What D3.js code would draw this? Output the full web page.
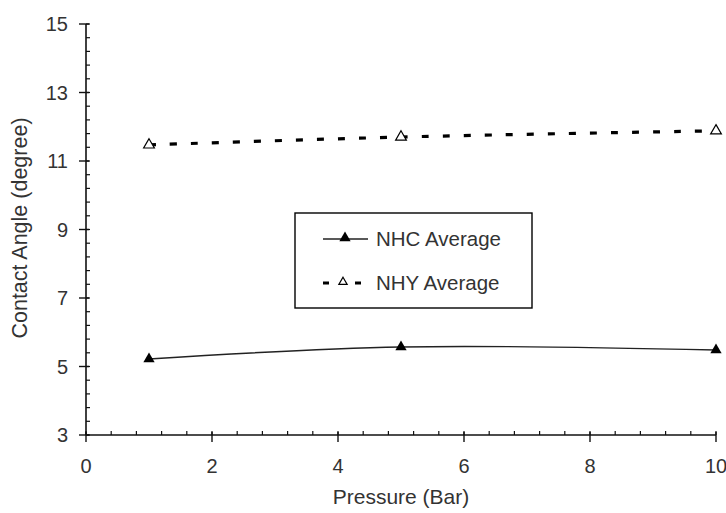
<!DOCTYPE html>
<html>
<head>
<meta charset="utf-8">
<script src="https://cdn.jsdelivr.net/npm/d3@7"></script>
<style>
  html, body { margin: 0; padding: 0; background: #fff; }
  svg { display: block; }
  text { font-family: "Liberation Sans", Arial, sans-serif; fill: #333; }
</style>
</head>
<body>
<svg id="chart" width="726" height="513"></svg>
<script>
// Contact angle vs. pressure for two samples
const pressure = [1, 5, 10];
const nhcAverage = [5.22, 5.57, 5.48];
const nhyAverage = [11.47, 11.70, 11.88];
const seriesNames = ["NHC Average", "NHY Average"];
const xTicks = [0, 2, 4, 6, 8, 10];
const yTicks = [3, 5, 7, 9, 11, 13, 15];
const xTitle = "Pressure (Bar)";
const yTitle = "Contact Angle (degree)";

const svg = d3.select("#chart");
const x = d3.scaleLinear().domain([0, 10]).range([86, 716]);
const y = d3.scaleLinear().domain([3, 15]).range([435, 24]);

// minor ticks every 0.4 units
const xMinor = d3.range(0, 10.001, 0.4);
const yMinor = d3.range(3, 15.001, 0.4);

const axisColor = "#111";

// x axis
const gx = svg.append("g");
gx.append("line").attr("x1", x(0)).attr("x2", x(10)).attr("y1", y(3)).attr("y2", y(3))
  .attr("stroke", axisColor).attr("stroke-width", 1.6);
gx.selectAll("line.minor").data(xMinor).join("line").attr("class", "minor")
  .attr("x1", d => x(d)).attr("x2", d => x(d))
  .attr("y1", y(3)).attr("y2", y(3) - 4)
  .attr("stroke", axisColor).attr("stroke-width", 1.2);
gx.selectAll("line.major").data(xTicks).join("line").attr("class", "major")
  .attr("x1", d => x(d)).attr("x2", d => x(d))
  .attr("y1", y(3) - 3).attr("y2", y(3) + 7)
  .attr("stroke", axisColor).attr("stroke-width", 1.4);
gx.selectAll("text").data(xTicks).join("text")
  .attr("x", d => x(d)).attr("y", 473)
  .attr("text-anchor", "middle").attr("font-size", 20)
  .text(d => d);

// y axis
const gy = svg.append("g");
gy.append("line").attr("x1", x(0)).attr("x2", x(0)).attr("y1", y(3)).attr("y2", y(15))
  .attr("stroke", axisColor).attr("stroke-width", 1.6);
gy.selectAll("line.minor").data(yMinor).join("line").attr("class", "minor")
  .attr("x1", x(0)).attr("x2", x(0) + 4)
  .attr("y1", d => y(d)).attr("y2", d => y(d))
  .attr("stroke", axisColor).attr("stroke-width", 1.2);
gy.selectAll("line.major").data(yTicks).join("line").attr("class", "major")
  .attr("x1", x(0) - 7).attr("x2", x(0) + 3)
  .attr("y1", d => y(d)).attr("y2", d => y(d))
  .attr("stroke", axisColor).attr("stroke-width", 1.4);
gy.selectAll("text").data(yTicks).join("text")
  .attr("x", 68).attr("y", d => y(d) + 7)
  .attr("text-anchor", "end").attr("font-size", 20)
  .text(d => d);

// axis titles
svg.append("text").attr("x", x(5)).attr("y", 504)
  .attr("text-anchor", "middle").attr("font-size", 21).text(xTitle);
svg.append("text")
  .attr("transform", `translate(27, 228) rotate(-90)`)
  .attr("text-anchor", "middle").attr("font-size", 21.5).text(yTitle);

// series lines
const line = d3.line().curve(d3.curveCatmullRom.alpha(0.5))
  .x(d => x(d[0])).y(d => y(d[1]));
const nhc = pressure.map((p, i) => [p, nhcAverage[i]]);
const nhy = pressure.map((p, i) => [p, nhyAverage[i]]);

svg.append("path").datum(nhy).attr("d", line)
  .attr("fill", "none").attr("stroke", "#000").attr("stroke-width", 3.2)
  .attr("stroke-dasharray", "7,14");
svg.append("path").datum(nhc).attr("d", line)
  .attr("fill", "none").attr("stroke", "#222").attr("stroke-width", 1.4);

const tri = d3.symbol().type(d3.symbolTriangle);
svg.selectAll("path.nhc").data(nhc).join("path").attr("class", "nhc")
  .attr("d", tri.size(55)())
  .attr("transform", d => `translate(${x(d[0])},${y(d[1])})`)
  .attr("fill", "#000");
svg.selectAll("path.nhy").data(nhy).join("path").attr("class", "nhy")
  .attr("d", tri.size(50)())
  .attr("transform", d => `translate(${x(d[0])},${y(d[1])})`)
  .attr("fill", "#fff").attr("stroke", "#000").attr("stroke-width", 1.2);

// legend
const lg = svg.append("g");
lg.append("rect").attr("x", 295).attr("y", 213).attr("width", 237).attr("height", 95)
  .attr("fill", "#fff").attr("stroke", "#000").attr("stroke-width", 1.4);
lg.append("line").attr("x1", 323).attr("x2", 368).attr("y1", 239).attr("y2", 239)
  .attr("stroke", "#222").attr("stroke-width", 1.4);
lg.append("path").attr("d", tri.size(55)()).attr("transform", "translate(345,238)")
  .attr("fill", "#000");
lg.append("line").attr("x1", 323).attr("x2", 362).attr("y1", 283).attr("y2", 283)
  .attr("stroke", "#000").attr("stroke-width", 3.2).attr("stroke-dasharray", "6,26");
lg.append("path").attr("d", tri.size(30)()).attr("transform", "translate(343,282)")
  .attr("fill", "#fff").attr("stroke", "#000").attr("stroke-width", 1.2);
lg.selectAll("text").data(seriesNames).join("text")
  .attr("x", 376).attr("y", (d, i) => 246 + i * 44)
  .attr("font-size", 20.5).text(d => d);
</script>
</body>
</html>
